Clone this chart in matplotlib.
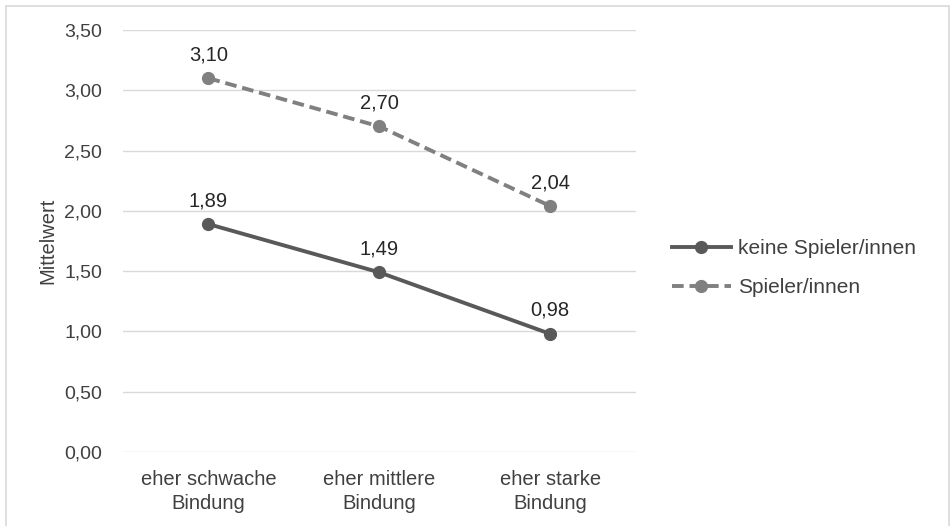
import matplotlib.pyplot as plt
from matplotlib.patches import Rectangle

plt.rcParams['font.family'] = ['Liberation Sans', 'DejaVu Sans']

categories = ['eher schwache\nBindung', 'eher mittlere\nBindung', 'eher starke\nBindung']
keine_spieler = [1.89, 1.49, 0.98]
spieler = [3.10, 2.70, 2.04]
yticks = [0.0, 0.5, 1.0, 1.5, 2.0, 2.5, 3.0, 3.5]

def de(v):
    return f'{v:.2f}'.replace('.', ',')

fig = plt.figure(figsize=(9.5, 5.26), dpi=100)
ax = fig.add_axes([0.1295, 0.1407, 0.5395, 0.8023])

x = range(len(categories))
ax.plot(x, keine_spieler, color='#595959', lw=2.8, marker='o', ms=8.5,
        label='keine Spieler/innen', zorder=3)
ax.plot(x, spieler, color='#808080', lw=2.8, ls=(0, (3, 1.5)), marker='o', ms=8.5,
        label='Spieler/innen', zorder=3)

for xi, v in zip(x, keine_spieler):
    ax.annotate(de(v), (xi, v), xytext=(0, 10), textcoords='offset points',
                ha='center', va='bottom', fontsize=14.5, color='#262626')
for xi, v in zip(x, spieler):
    ax.annotate(de(v), (xi, v), xytext=(0, 10), textcoords='offset points',
                ha='center', va='bottom', fontsize=14.5, color='#262626')

ax.set_xlim(-0.5, 2.5)
ax.set_ylim(0, 3.5)
ax.set_yticks(yticks)
ax.set_yticklabels([de(v) for v in yticks], fontsize=14, color='#404040')
ax.set_xticks(list(x))
ax.set_xticklabels(categories, fontsize=14.5, color='#404040', linespacing=1.35)
ax.tick_params(length=0)
ax.tick_params(axis='x', pad=13)
ax.tick_params(axis='y', pad=15)
ax.grid(axis='y', color='#d9d9d9', lw=1)
ax.set_axisbelow(True)
for s in ax.spines.values():
    s.set_visible(False)
ax.set_ylabel('Mittelwert', fontsize=14.5, color='#404040', labelpad=5)

ax.legend(loc='center left', bbox_to_anchor=(1.039, 0.436), frameon=False,
          fontsize=15, handlelength=2.8, handletextpad=0.35, labelspacing=0.95,
          borderaxespad=0.4, labelcolor='#404040')

fig.patches.append(Rectangle((5.5 / 950, -0.1), 943 / 950, 1.1 - 5.5 / 526,
                             transform=fig.transFigure, fill=False,
                             ec='#d9d9d9', lw=1.2))

fig.savefig('out.png', dpi=100)
